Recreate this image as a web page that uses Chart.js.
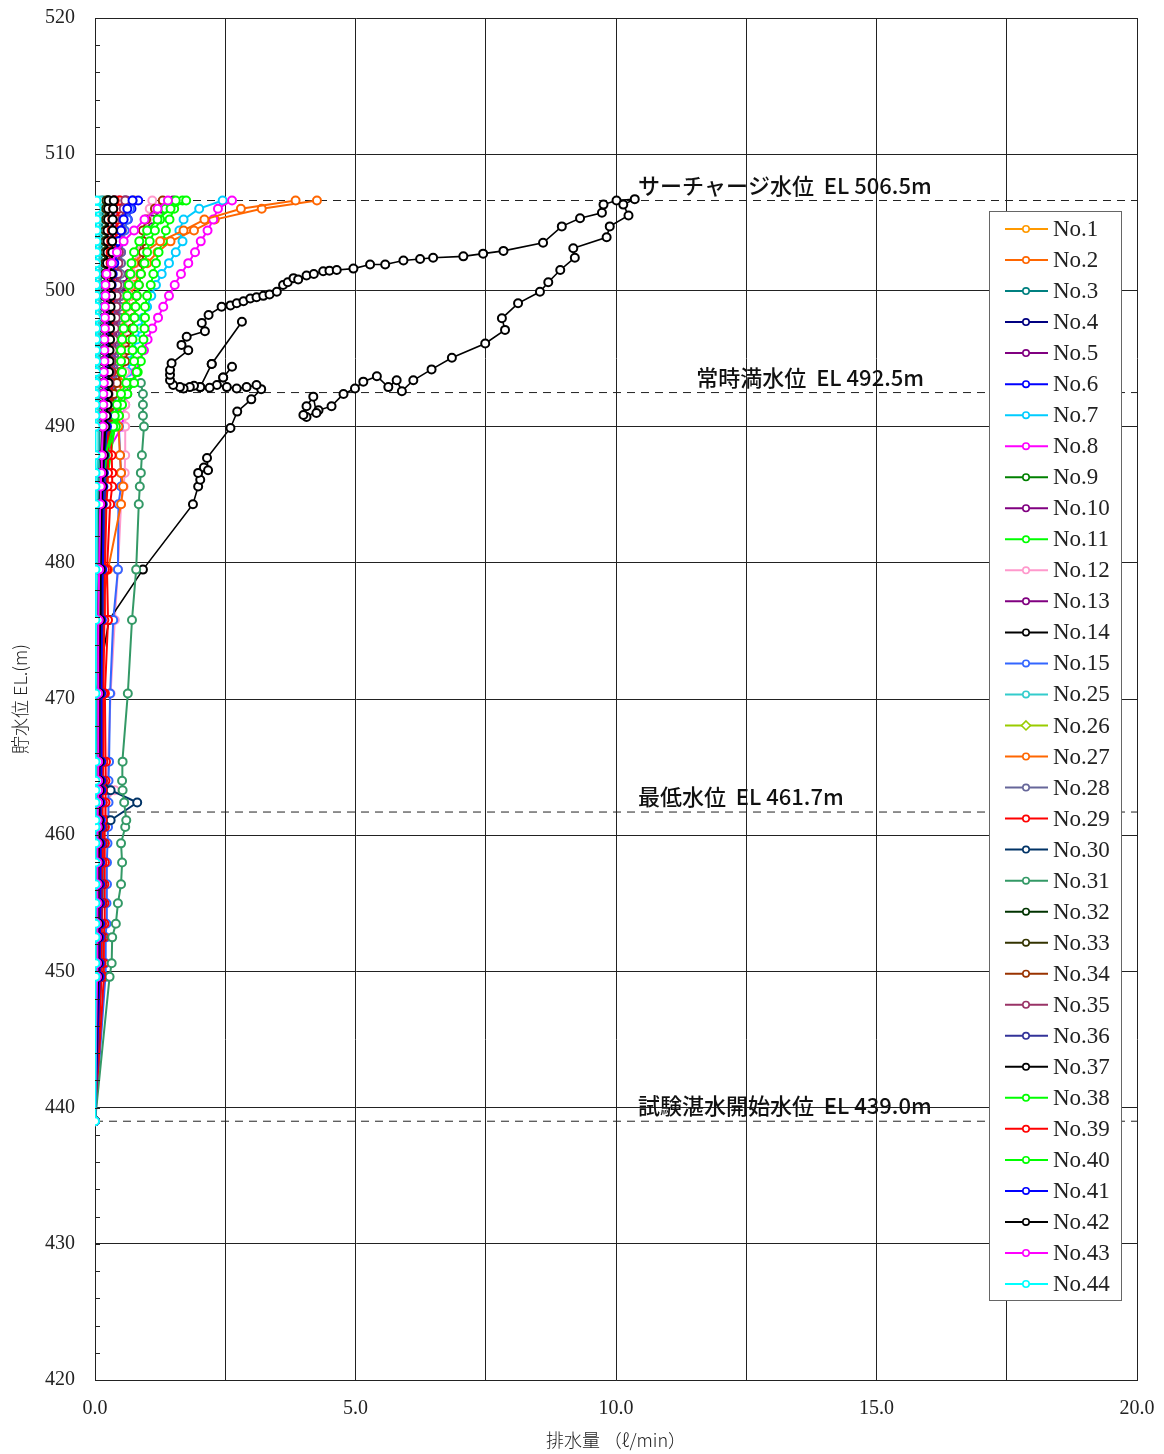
<!DOCTYPE html>
<html>
<head>
<meta charset="utf-8">
<script src="https://cdn.jsdelivr.net/npm/chart.js@4.4.1/dist/chart.umd.min.js"></script>
<style>
  html, body { margin: 0; padding: 0; background: #fff; }
  canvas { display: block; }
</style>
</head>
<body>
<canvas id="chart" width="1164" height="1454"></canvas>
<script>
// water level (EL m) at which the flows were read
const elev = [439.0, 449.6, 450.6, 452.5, 453.5, 455.0, 456.4, 458.0, 459.4, 460.6, 461.1, 462.4, 463.3, 464.0, 465.4, 470.4, 475.8, 479.5, 484.3, 485.6, 486.6, 487.9,
  490.0, 490.8, 491.6, 492.4, 493.2, 494.0, 494.8, 495.6, 496.4, 497.2, 498.0, 498.8, 499.6, 500.4, 501.2, 502.0, 502.8, 503.6, 504.4, 505.2, 506.0, 506.6];

// drainage flow (l/min) of each point, one value per elev
const no1 = [0, .06, .06, .07, .07, .07, .08, .08, .08, .09, .09, .09, .1, .1, .1, .1, .11, .12, .14, .15, .16, .18,
  .2, .21, .22, .24, .26, .28, .3, .32, .33, .35, .37, .38, .4, .42, .44, .46, .49, .52, .56, .6, .66, .75];
const no2 = [0, .05, .05, .05, .06, .06, .06, .06, .07, .07, .07, .07, .08, .08, .08, .09, .1, .12, .15, .17, .19, .22,
  .3, .32, .34, .36, .38, .4, .42, .45, .48, .52, .57, .62, .68, .75, .85, 1.0, 1.2, 1.45, 1.9, 2.3, 3.2, 4.26];
const no3 = [0, .03, .03, .03, .03, .04, .04, .04, .04, .04, .05, .05, .05, .05, .05, .05, .06, .06, .07, .07, .07, .08,
  .08, .08, .08, .09, .09, .09, .09, .1, .1, .1, .1, .11, .11, .11, .12, .12, .12, .13, .13, .14, .14, .15];
const no4 = [0, .09, .09, .1, .1, .1, .11, .11, .11, .12, .12, .12, .12, .13, .13, .14, .15, .17, .19, .2, .21, .22,
  .22, .23, .23, .24, .24, .25, .25, .26, .26, .27, .27, .28, .28, .29, .3, .31, .32, .33, .34, .35, .36, .38];
const no5 = [0, .07, .07, .08, .08, .08, .09, .09, .09, .1, .1, .1, .1, .11, .11, .12, .13, .15, .18, .19, .2, .22,
  .25, .26, .28, .3, .31, .32, .33, .34, .35, .36, .37, .38, .39, .4, .42, .44, .46, .48, .5, .53, .56, .6];
const no6 = [0, .08, .08, .09, .09, .1, .1, .1, .11, .11, .11, .12, .12, .12, .13, .13, .14, .15, .16, .16, .17, .17,
  .18, .19, .2, .2, .21, .22, .23, .24, .25, .26, .27, .28, .3, .32, .35, .38, .42, .48, .55, .63, .7, .83];
const no7 = [0, .04, .04, .04, .05, .05, .05, .05, .05, .06, .06, .06, .06, .06, .07, .07, .08, .1, .14, .17, .2, .25,
  .35, .4, .45, .52, .58, .63, .67, .73, .8, .87, .93, 1.0, 1.08, 1.17, 1.28, 1.42, 1.55, 1.68, 1.62, 1.7, 2.0, 2.45];
const no8 = [0, .05, .05, .05, .05, .06, .06, .06, .06, .07, .07, .07, .07, .07, .08, .08, .09, .1, .12, .14, .16, .2,
  .52, .55, .58, .62, .7, .78, .86, .94, 1.01, 1.1, 1.21, 1.31, 1.42, 1.53, 1.65, 1.79, 1.92, 2.03, 2.16, 2.27, 2.36, 2.63];
const no9 = [0, .05, .05, .06, .06, .06, .06, .07, .07, .07, .07, .08, .08, .08, .08, .09, .1, .11, .12, .13, .13, .14,
  .14, .14, .15, .15, .15, .16, .16, .16, .17, .17, .17, .18, .18, .19, .19, .2, .2, .21, .22, .23, .24, .26];
const no10 = [0, .06, .06, .06, .07, .07, .07, .08, .08, .08, .08, .09, .09, .09, .1, .1, .12, .14, .17, .18, .2, .23,
  .28, .3, .32, .33, .35, .36, .37, .38, .4, .41, .43, .46, .5, .56, .65, .76, .84, .9, .98, 1.1, 1.28, 1.5];
const no11 = [0, .06, .06, .07, .07, .07, .08, .08, .08, .09, .09, .09, .1, .1, .1, .11, .12, .15, .2, .22, .25, .3,
  .38, .42, .47, .55, .68, .82, .88, .9, .93, .95, .96, .96, 1.0, 1.07, 1.12, 1.17, 1.22, 1.3, 1.36, 1.43, 1.52, 1.68];
const no12 = [0, .1, .1, .12, .12, .13, .14, .15, .16, .17, .18, .2, .38, .22, .25, .3, .38, .44, .5, .55, .57, .58,
  .58, .58, .58, .58, .6, .58, .56, .56, .57, .58, .6, .62, .65, .68, .72, .77, .82, .88, .95, 1.0, 1.05, 1.1];
const no13 = [0, .07, .07, .07, .08, .08, .08, .09, .09, .09, .1, .1, .1, .1, .11, .11, .12, .14, .16, .17, .18, .2,
  .22, .23, .24, .25, .26, .27, .28, .29, .3, .31, .32, .33, .34, .35, .36, .37, .38, .39, .4, .42, .44, .46];
const no15 = [0, .2, .2, .21, .22, .22, .23, .23, .24, .25, .25, .26, .26, .26, .27, .29, .35, .44, .45, .5, .5, .48,
  .46, .44, .4, .38, .36, .35, .35, .35, .36, .37, .38, .4, .42, .44, .46, .48, .5, .53, .57, .62, .67, .72];
const no25 = [0, .02, .02, .02, .02, .03, .03, .03, .03, .03, .03, .03, .04, .04, .04, .04, .04, .05, .05, .05, .05, .06,
  .06, .06, .06, .06, .06, .07, .07, .07, .07, .07, .08, .08, .08, .08, .08, .09, .09, .09, .09, .1, .1, .1];
const no26 = [0, .1, .1, .1, .11, .11, .11, .12, .12, .12, .12, .13, .13, .13, .13, .14, .15, .16, .18, .19, .2, .21,
  .22, .22, .23, .23, .24, .24, .25, .25, .26, .26, .27, .27, .28, .28, .29, .3, .3, .31, .32, .33, .34, .35];
const no27 = [0, .05, .05, .05, .05, .05, .06, .06, .06, .06, .06, .06, .07, .07, .07, .08, .1, .25, .5, .54, .5, .48,
  .45, .46, .47, .48, .49, .5, .51, .52, .53, .54, .55, .57, .6, .64, .68, .75, .95, 1.25, 1.7, 2.1, 2.8, 3.85];
const no28 = [0, .08, .08, .08, .09, .09, .09, .1, .1, .1, .1, .11, .11, .11, .11, .12, .13, .15, .18, .2, .22, .25,
  .3, .33, .36, .38, .4, .42, .43, .44, .45, .46, .47, .47, .48, .48, .49, .5, .5, .51, .52, .53, .55, .57];
const no29 = [0, .17, .17, .17, .18, .18, .18, .19, .19, .19, .2, .2, .2, .2, .21, .19, .25, .23, .29, .33, .33, .32,
  .3, .3, .31, .31, .32, .32, .32, .33, .33, .33, .34, .34, .35, .36, .37, .38, .39, .4, .42, .44, .46, .48];
const no30 = [0, .12, .12, .13, .13, .14, .14, .14, .15, .15, .3, .81, .3, .15, .15, .14, .14, .15, .16, .16, .17, .17,
  .17, .18, .18, .18, .19, .19, .19, .2, .2, .2, .21, .21, .21, .22, .22, .22, .23, .23, .24, .24, .25, .26];
const no31 = [0, .28, .32, .33, .4, .44, .5, .52, .5, .58, .6, .56, .53, .52, .53, .63, .71, .79, .84, .86, .88, .9,
  .94, .92, .92, .92, .88, null, null, null, null, null, null, null, null, null, null, null, null, null, null, null, null, null];
const no32 = [0, .1, .1, .1, .1, .11, .11, .11, .11, .12, .12, .12, .12, .12, .13, .13, .13, .14, .15, .15, .16, .16,
  .16, .16, .17, .17, .17, .18, .18, .18, .18, .19, .19, .19, .2, .2, .2, .21, .21, .21, .22, .22, .23, .24];
const no33 = [0, .09, .09, .09, .1, .1, .1, .1, .1, .11, .11, .11, .11, .11, .12, .12, .12, .13, .13, .14, .14, .14,
  .15, .15, .15, .16, .16, .16, .17, .17, .17, .17, .18, .18, .18, .19, .19, .19, .2, .2, .2, .21, .21, .22];
const no34 = [0, .05, .05, .05, .05, .06, .06, .06, .06, .06, .07, .07, .07, .07, .07, .08, .1, .12, .19, .22, .22, .23,
  .3, .33, .33, .36, .42, .5, .58, .63, .66, .71, .75, .77, .8, .84, .88, .92, .92, .92, .92, .98, 1.15, 1.3];
const no35 = [0, .07, .07, .07, .07, .08, .08, .08, .08, .09, .09, .09, .09, .1, .1, .1, .11, .12, .14, .15, .16, .18,
  .2, .22, .24, .26, .28, .3, .32, .34, .36, .38, .4, .41, .42, .43, .44, .45, .46, .48, .5, .52, .55, .58];
const no36 = [0, .11, .11, .11, .12, .12, .12, .13, .13, .13, .13, .14, .14, .14, .14, .15, .16, .17, .18, .19, .2, .2,
  .21, .21, .22, .22, .23, .23, .24, .24, .25, .25, .26, .26, .27, .27, .28, .28, .29, .3, .31, .32, .34, .36];
const no37 = [0, .04, .04, .04, .04, .05, .05, .05, .05, .05, .05, .06, .06, .06, .06, .06, .07, .08, .09, .1, .11, .12,
  .14, .15, .16, .17, .18, .19, .2, .2, .21, .21, .22, .22, .22, .23, .23, .23, .24, .24, .24, .25, .25, .26];
const no38 = [0, .05, .05, .05, .06, .06, .06, .06, .07, .07, .07, .07, .07, .08, .08, .08, .09, .11, .14, .16, .18, .22,
  .4, .46, .52, .62, .75, .8, .75, .72, .72, .74, .76, .78, .8, .84, .88, .95, 1.0, 1.05, 1.15, 1.25, 1.35, 1.55];
const no39 = [0, .12, .12, .12, .13, .13, .13, .14, .14, .14, .15, .15, .15, .15, .16, .16, .18, .19, .22, .24, .25, .25,
  .24, .24, .25, .25, .25, .26, .26, .26, .27, .27, .27, .28, .28, .29, .29, .3, .3, .31, .32, .33, .35, .38];
const no40 = [0, .04, .04, .04, .05, .05, .05, .05, .05, .06, .06, .06, .06, .06, .06, .07, .08, .1, .12, .14, .16, .2,
  .35, .38, .42, .5, .6, .52, .5, .5, .52, .55, .58, .6, .62, .65, .68, .7, .75, .85, 1.0, 1.2, 1.45, 1.75];
const no41 = [0, .09, .09, .09, .1, .1, .1, .1, .11, .11, .11, .11, .12, .12, .12, .12, .13, .14, .15, .16, .17, .18,
  .23, .23, .24, .24, .25, .25, .26, .26, .27, .27, .28, .29, .3, .32, .34, .37, .4, .45, .5, .55, .62, .72];
const no42 = [0, .06, .06, .06, .07, .07, .07, .07, .08, .08, .08, .08, .09, .09, .09, .09, .1, .11, .13, .14, .15, .17,
  .2, .22, .24, .25, .26, .27, .28, .28, .29, .29, .3, .3, .31, .31, .32, .32, .33, .33, .34, .34, .35, .36];
const no43 = [0, .04, .04, .04, .04, .05, .05, .05, .05, .05, .05, .06, .06, .06, .06, .06, .07, .08, .1, .11, .12, .13,
  .15, .15, .16, .16, .17, .17, .18, .18, .18, .19, .19, .19, .2, .2, .22, .32, .42, .55, .75, .95, 1.2, 1.4];
const no44 = [0, .01, .01, .01, .01, .01, .01, .01, .01, .01, .01, .01, .01, .01, .01, .01, .01, .01, .01, .01, .01, .01,
  .01, .01, .01, .01, .02, .02, .02, .02, .02, .02, .02, .02, .02, .02, .02, .02, .03, .03, .03, .03, .03, .03];

// No.14 was read along its own path (flow, level)
const no14x = [0, .03, .03, .03, .04, .04, .04, .04, .05, .05, .05, .05, .05, .05, .05, .02, .27, .92, 1.88, 1.98, 2.02, 1.98, 2.09, 2.17, 2.15, 2.6, 2.73, 3.0, 3.19,
  3.1, 2.91, 2.72, 2.53, 2.34, 2.46, 2.63, 2.46, 2.2, 2.02, 2.24, 2.82, 2.24, 2.02, 1.9, 1.82, 1.7, 1.63, 1.5, 1.44, 1.44, 1.44, 1.47, 1.79, 1.66, 1.76, 2.11, 2.05, 2.18, 2.43, 2.6, 2.72, 2.85, 2.98, 3.1, 3.23, 3.35, 3.49, 3.61, 3.7, 3.81, 3.9, 4.06, 4.2, 4.38, 4.5, 4.64, 4.96, 5.28, 5.57, 5.92, 6.24, 6.49, 7.07, 7.45, 7.84, 8.6, 8.96, 9.31, 9.73, 9.76, 10.01, 10.36,
  10.14, 10.24, 9.88, 9.82, 9.18, 9.21, 8.93, 8.7, 8.54, 8.12, 7.81, 7.87, 7.49, 6.85, 6.46, 6.11, 5.89, 5.79, 5.63, 5.41, 5.15, 4.99, 4.77, 4.54, 4.29, 4.06, 4.0, 4.06, 4.19, 4.25];
const no14y = [439.0, 449.6, 450.6, 452.5, 453.5, 455.0, 456.4, 458.0, 459.4, 460.6, 461.1, 462.4, 463.3, 464.0, 465.4, 470.4, 475.8, 479.5, 484.3, 485.6, 486.1, 486.6, 487.0, 486.8, 487.7, 489.9, 491.1, 492.0, 492.75,
  493.05, 492.9, 492.8, 492.9, 493.05, 493.6, 494.4, 493.6, 492.85, 492.9, 494.6, 497.7, 494.6, 492.9, 493.0, 492.9, 492.8, 492.9, 493.05, 493.4, 493.8, 494.15, 494.65, 495.6, 496.0, 496.6, 497.0, 497.6, 498.2, 498.8, 498.9, 499.05, 499.2, 499.4, 499.5, 499.6, 499.7, 499.9, 500.4, 500.6, 500.9, 500.8, 501.1, 501.2, 501.4, 501.45, 501.5, 501.6, 501.9, 501.9, 502.2, 502.3, 502.4, 502.5, 502.7, 502.9, 503.5, 504.7, 505.3, 505.7, 506.3, 506.6, 506.7,
  506.3, 505.5, 504.7, 503.9, 503.1, 502.4, 501.5, 500.6, 499.9, 499.05, 497.95, 497.1, 496.1, 495.05, 494.2, 493.4, 492.6, 493.4, 492.9, 493.7, 493.3, 492.8, 492.4, 491.5, 491.2, 490.7, 490.85, 491.5, 492.2, 491.0];

const seriesNames = ['No.1', 'No.2', 'No.3', 'No.4', 'No.5', 'No.6', 'No.7', 'No.8', 'No.9', 'No.10', 'No.11', 'No.12', 'No.13', 'No.14', 'No.15',
  'No.25', 'No.26', 'No.27', 'No.28', 'No.29', 'No.30', 'No.31', 'No.32', 'No.33', 'No.34', 'No.35', 'No.36', 'No.37', 'No.38', 'No.39', 'No.40', 'No.41', 'No.42', 'No.43', 'No.44'];
const seriesFlows = [no1, no2, no3, no4, no5, no6, no7, no8, no9, no10, no11, no12, no13, null, no15,
  no25, no26, no27, no28, no29, no30, no31, no32, no33, no34, no35, no36, no37, no38, no39, no40, no41, no42, no43, no44];

// reference water levels
const refLevels = [506.6, 492.5, 461.7, 439.0];
const refLabels = ['サーチャージ水位  EL 506.5m', '常時満水位  EL 492.5m', '最低水位  EL 461.7m', '試験湛水開始水位  EL 439.0m'];

const xTitle = '排水量 （ℓ/min）';
const yTitle = '貯水位 EL.(m)';

// styling
const lineColors = ['#ff9900', '#ff6600', '#008080', '#000080', '#800080', '#0000ff', '#00ccff', '#ff00ff', '#008000', '#800080', '#00ff00', '#ff99cc', '#800080', '#000000', '#3366ff',
  '#33cccc', '#99cc00', '#ff6600', '#666699', '#ff0000', '#003366', '#339966', '#003300', '#333300', '#993300', '#993366', '#333399', '#000000', '#00ff00', '#ff0000', '#00ff00', '#0000ff', '#000000', '#ff00ff', '#00ffff'];
const refLabelX = [10.42, 11.54, 10.42, 10.42];

function toPoints(xs, ys) {
  const out = [];
  xs.forEach((x, i) => { if (x !== null) out.push({ x: x, y: ys[i] }); });
  return out;
}

const datasets = [];
seriesNames.forEach((name, i) => {
  const data = name === 'No.14' ? toPoints(no14x, no14y) : toPoints(seriesFlows[i], elev);
  datasets.push({
    label: name,
    data: data,
    showLine: true,
    borderColor: lineColors[i],
    backgroundColor: '#ffffff',
    borderWidth: name === 'No.14' ? 1.6 : 2,
    pointRadius: 4,
    pointBorderWidth: 2,
    pointStyle: name === 'No.26' ? 'rectRot' : 'circle',
    order: 100 - i
  });
});
refLevels.forEach((lv, i) => {
  datasets.push({
    label: 'ref' + i,
    data: [{ x: 0, y: lv }, { x: 20, y: lv }],
    showLine: true,
    borderColor: '#222',
    borderWidth: 1,
    borderDash: [8, 6],
    pointRadius: 0,
    order: 200
  });
});

const overlay = {
  id: 'overlay',
  afterDraw(chart) {
    const ctx = chart.ctx;
    const xs = chart.scales.x, ys = chart.scales.y;
    const area = chart.chartArea;
    ctx.save();
    // minor ticks on the left axis
    ctx.strokeStyle = '#222';
    ctx.lineWidth = 1;
    for (let v = 422; v < 520; v += 2) {
      const py = Math.round(ys.getPixelForValue(v)) + 0.5;
      ctx.beginPath();
      ctx.moveTo(area.left, py);
      ctx.lineTo(area.left + 5, py);
      ctx.stroke();
    }
    // reference level labels
    ctx.fillStyle = '#111';
    ctx.font = '500 22px "Noto Sans CJK JP", "Noto Sans", sans-serif';
    ctx.textBaseline = 'alphabetic';
    ctx.textAlign = 'left';
    refLabels.forEach((t, i) => {
      ctx.fillText(t, xs.getPixelForValue(refLabelX[i]), ys.getPixelForValue(refLevels[i]) - 7);
    });
    // legend box
    const lx = 989, ly = 211, lw = 132, lh = 1089;
    ctx.fillStyle = '#fff';
    ctx.fillRect(lx, ly, lw, lh);
    ctx.strokeStyle = '#666';
    ctx.strokeRect(lx + 0.5, ly + 0.5, lw, lh);
    ctx.font = '23px "Liberation Serif", serif';
    ctx.textBaseline = 'middle';
    seriesNames.forEach((name, i) => {
      const y = 229 + i * 31.03;
      ctx.strokeStyle = lineColors[i];
      ctx.lineWidth = 2;
      ctx.beginPath();
      ctx.moveTo(1005, y);
      ctx.lineTo(1048, y);
      ctx.stroke();
      ctx.fillStyle = '#fff';
      ctx.lineWidth = 1.6;
      ctx.beginPath();
      if (name === 'No.26') {
        ctx.moveTo(1026, y - 4.5); ctx.lineTo(1030.5, y); ctx.lineTo(1026, y + 4.5); ctx.lineTo(1021.5, y); ctx.closePath();
      } else {
        ctx.arc(1026, y, 3.2, 0, Math.PI * 2);
      }
      ctx.fill();
      ctx.stroke();
      ctx.fillStyle = '#222';
      ctx.fillText(name, 1053, y + 1);
    });
    ctx.restore();
  }
};

new Chart(document.getElementById('chart'), {
  type: 'scatter',
  data: { datasets: datasets },
  options: {
    responsive: false,
    animation: false,
    devicePixelRatio: 1,
    layout: { padding: { left: 0, right: 27, top: 18, bottom: 0 } },
    plugins: {
      legend: { display: false },
      tooltip: { enabled: false }
    },
    scales: {
      x: {
        type: 'linear',
        min: 0,
        max: 20,
        afterFit: s => { s.height = 74; s.paddingLeft = 0; s.paddingRight = 0; },
        grid: { color: '#222', lineWidth: 1, drawTicks: false },
        border: { color: '#222' },
        ticks: {
          stepSize: 2.5,
          padding: 17,
          color: '#222',
          font: { family: '"Liberation Serif", serif', size: 20 },
          callback: v => (v % 5 === 0 ? v.toFixed(1) : '')
        },
        title: {
          display: true,
          text: xTitle,
          color: '#222',
          font: { family: '"Noto Sans CJK JP", sans-serif', size: 18, weight: '300' },
          padding: { top: 0, bottom: 3 }
        }
      },
      y: {
        type: 'linear',
        min: 420,
        max: 520,
        afterFit: s => { s.width = 95; s.paddingTop = 0; s.paddingBottom = 0; },
        grid: { color: '#222', lineWidth: 1, drawTicks: false },
        border: { color: '#222' },
        ticks: {
          stepSize: 10,
          padding: 20,
          color: '#222',
          font: { family: '"Liberation Serif", serif', size: 20 }
        },
        title: {
          display: true,
          text: yTitle,
          color: '#222',
          font: { family: '"Noto Sans CJK JP", sans-serif', size: 18, weight: '300' },
          padding: { top: 9, bottom: 0 }
        }
      }
    }
  },
  plugins: [overlay]
});
</script>
</body>
</html>
